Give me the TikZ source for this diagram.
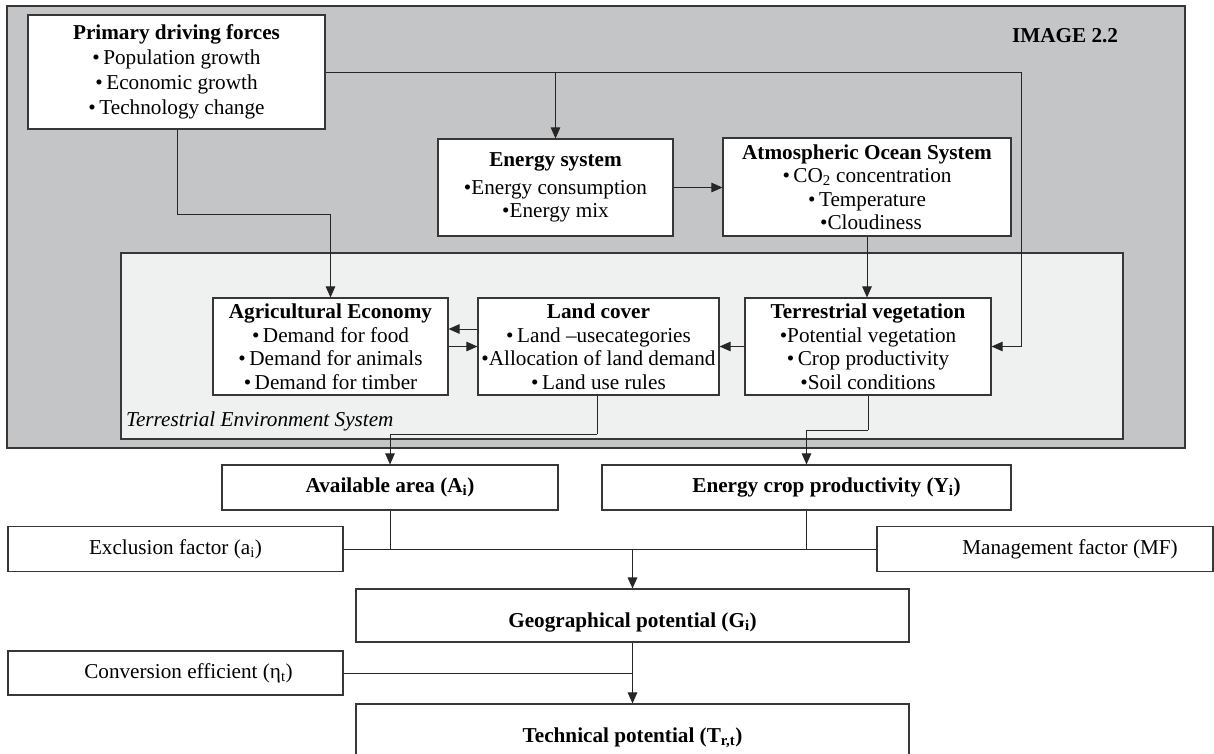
\documentclass[tikz,border=0pt]{standalone}
\usepackage{fontspec}
\setmainfont{Liberation Serif}
\usetikzlibrary{arrows.meta}
\definecolor{outerfill}{RGB}{196,197,199}
\definecolor{innerfill}{RGB}{239,240,240}
\definecolor{edge}{RGB}{55,55,55}
\begin{document}
\begin{tikzpicture}[x=1pt,y=-1pt,
  box/.style={draw=edge, line width=1.1pt, fill=white, inner sep=0pt, align=center,
              font=\fontsize{21.2}{23.5}\selectfont},
  bbox/.style={box, font=\bfseries\fontsize{21.2}{23.5}\selectfont},
  conn/.style={draw=black!85, line width=0.9pt},
  arr/.style={conn, -{Triangle[length=11pt,width=9.5pt]}},
  lbl/.style={inner sep=0pt, font=\fontsize{21.2}{23.5}\selectfont}
]
\useasboundingbox (0,0) rectangle (1214,753);
\fill[white] (0,0) rectangle (1214,753);
\begin{scope}
\clip (0,0) rectangle (1214,753);
% frames
\filldraw[fill=outerfill, draw=edge, line width=1.3pt] (7,6) rectangle (1185,448);
\filldraw[fill=innerfill, draw=edge, line width=1.1pt] (121,253) rectangle (1123,439);

\node[lbl, font=\bfseries\fontsize{21.2}{24}\selectfont] (img) at (1065,36) {IMAGE 2.2};
\node[lbl, anchor=base west, font=\itshape\fontsize{21.2}{24}\selectfont] (tes) at (126,426) {Terrestrial Environment System};

% boxes
\node[box, minimum width=297pt, minimum height=114pt, font=\fontsize{21.2}{25}\selectfont] (pdf) at (176.5,72)
  {\textbf{Primary driving forces}\\ •\,Population growth\\ •\,Economic growth\\ •\,Technology change};
\node[box, minimum width=235pt, minimum height=97pt] (energy) at (555.5,187.5)
  {\textbf{Energy system}\\[4pt] •Energy consumption\\ •Energy mix};
\node[box, minimum width=288pt, minimum height=98pt] (atm) at (867,187)
  {\textbf{Atmospheric Ocean System}\\ •\,CO\textsubscript{2} concentration\\ •\,Temperature\\ \hspace*{8pt}•Cloudiness};
\node[box, minimum width=235pt, minimum height=97pt] (ag) at (330.5,346.5)
  {\textbf{Agricultural Economy}\\ •\,Demand for food\\ •\,Demand for animals\\ •\,Demand for timber};
\node[box, minimum width=241pt, minimum height=97pt] (land) at (598.5,346.5)
  {\textbf{Land cover}\\ •\,Land –usecategories\\ •Allocation of land demand\\ •\,Land use rules};
\node[box, minimum width=246pt, minimum height=97pt] (terr) at (868,346.5)
  {\textbf{Terrestrial vegetation}\\ •Potential vegetation\\ •\,Crop productivity\\ •Soil conditions};

\node[bbox, minimum width=336pt, minimum height=45pt] (avail) at (390,487.5)
  {Available area (A\textsubscript{i})};
\node[bbox, minimum width=409pt, minimum height=45pt] (ecrop) at (806.5,487.5)
  {\hspace*{40pt}Energy crop productivity (Y\textsubscript{i})};
\node[box, minimum width=335pt, minimum height=45pt] (excl) at (175.5,549)
  {Exclusion factor (a\textsubscript{i})};
\node[box, minimum width=336pt, minimum height=45pt] (mgmt) at (1045,549)
  {\hspace*{50pt}Management factor (MF)};
\node[bbox, minimum width=553pt, minimum height=53pt] (geo) at (632.5,615.5)
  {\raisebox{-7pt}[\height][\depth]{Geographical potential (G\textsubscript{i})}};
\node[box, minimum width=335pt, minimum height=44pt] (conv) at (175.5,673)
  {\hspace*{26pt}Conversion efficient (η\textsubscript{t})};
\node[bbox, minimum width=553pt, minimum height=68pt] (tech) at (632.5,738)
  {Technical potential (T\textsubscript{r,t})};

% connectors
\coordinate (c1) at (1021,72);
\draw[arr] (pdf.east) -- (c1) |- (terr.east);
\draw[arr] (pdf.east -| energy.north) -- (energy.north);
\coordinate (c2) at (177,214);
\draw[arr] (c2 |- pdf.south) -- (c2) -| (ag.north);
\draw[arr] (energy.east) -- (energy.east -| atm.west);
\draw[arr] (atm.south) -- (atm.south |- terr.north);
\draw[arr] ([yshift=17.5pt]land.west) -- ([yshift=17.5pt]land.west -| ag.east);
\draw[arr] (ag.east) -- (ag.east -| land.west);
\draw[arr] (terr.west) -- (land.east);
\coordinate (c3) at (597,434);
\draw[conn] (c3 |- land.south) -- (c3);
\draw[arr] (c3) -| (avail.north);
\coordinate (c4) at (868,430);
\draw[conn] (terr.south) -- (c4);
\draw[arr] (c4) -| (ecrop.north);
\coordinate (j) at (632.5,549);
\draw[conn] (excl.east) -- (mgmt.west);
\draw[conn] (avail.south) -- (avail.south |- j);
\draw[conn] (ecrop.south) -- (ecrop.south |- j);
\draw[arr, line width=1.6pt] (j) -- (geo.north);
\coordinate (k) at (632.5,673);
\draw[conn] (conv.east) -- (k);
\draw[arr] (geo.south) -- (tech.north);
\end{scope}
\end{tikzpicture}
\end{document}
